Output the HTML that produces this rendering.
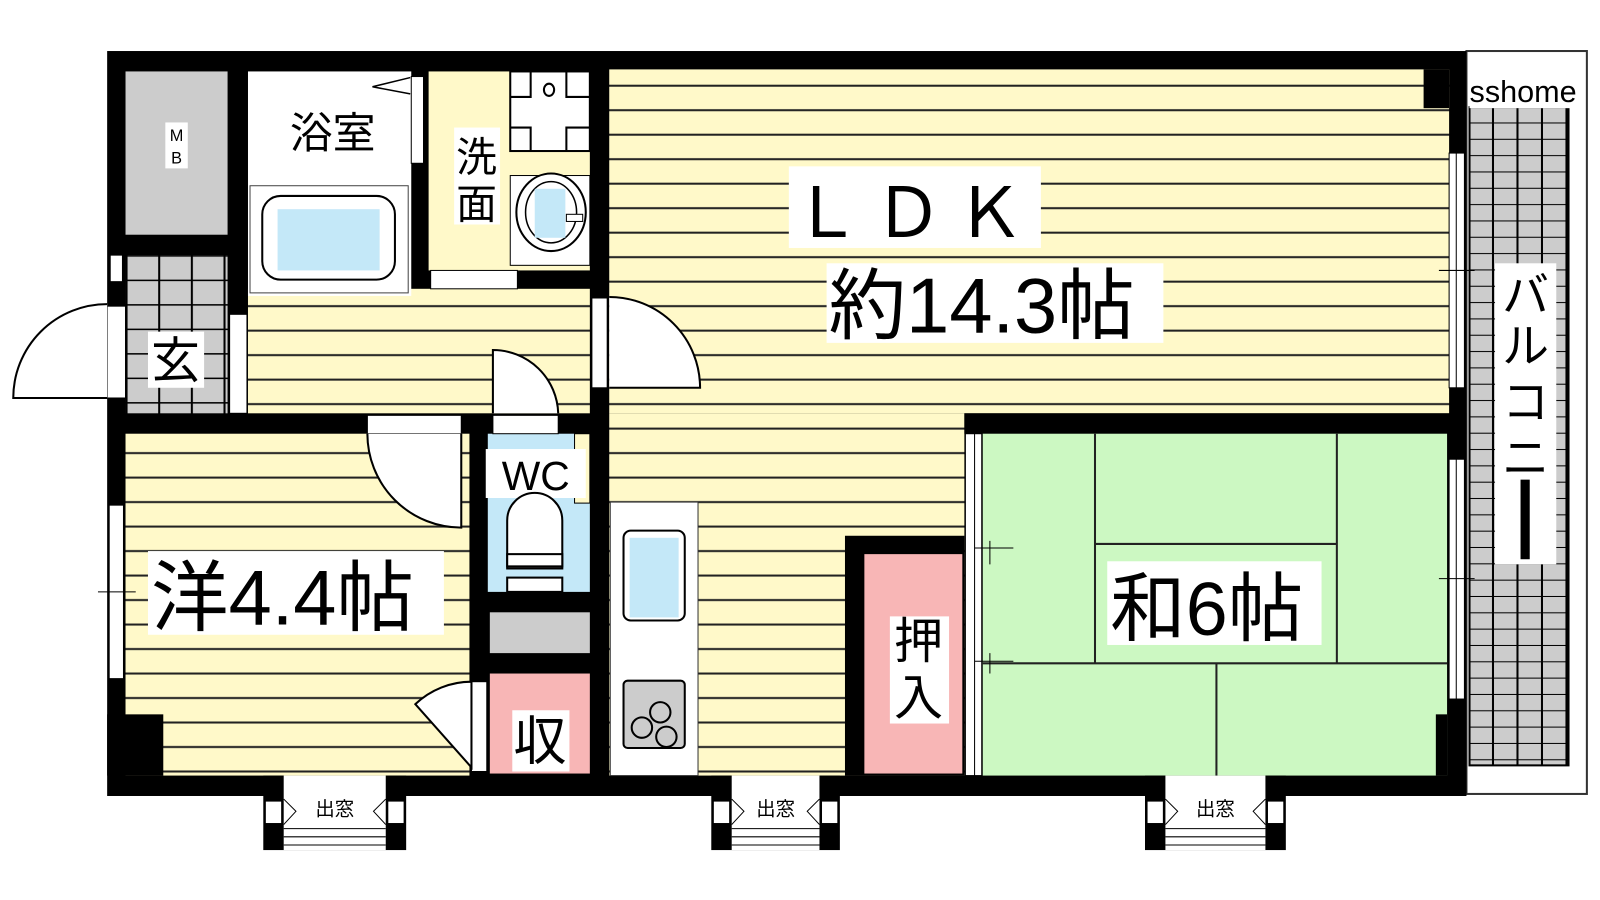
<!DOCTYPE html>
<html><head><meta charset="utf-8"><style>
html,body{margin:0;padding:0;background:#fff;overflow:hidden;}
svg{display:block;}
text{font-family:"Liberation Sans","Noto Sans CJK JP",sans-serif;}
</style></head><body>
<svg width="1600" height="900" viewBox="0 0 1600 900" xmlns="http://www.w3.org/2000/svg">
<defs>
<pattern id="st" x="0" y="0" width="10" height="24" patternUnits="userSpaceOnUse">
<rect width="10" height="24" fill="#fff9c9"/><rect y="11" width="10" height="2" fill="#222"/>
</pattern>
<pattern id="tile" x="123" y="250" width="32" height="24" patternUnits="userSpaceOnUse">
<rect width="32" height="24" fill="#cccccc"/><rect x="0" width="2" height="24" fill="#000"/><rect y="0" width="32" height="1.5" fill="#000"/>
</pattern>
<pattern id="bal" x="1440" y="105" width="24" height="16" patternUnits="userSpaceOnUse">
<rect width="24" height="16" fill="#cccccc"/><rect x="22" width="2" height="16" fill="#000"/><rect y="15" width="24" height="1.5" fill="#000"/>
</pattern>
</defs>
<g transform="scale(1.0205)">
<!-- balcony -->
<rect x="1437" y="50" width="118" height="728" fill="#fff" stroke="#333" stroke-width="2"/>
<rect x="1440" y="105" width="97" height="645" fill="url(#bal)" stroke="#000" stroke-width="2"/>
<rect x="1440" y="68" width="107" height="38" fill="#fff"/>
<text x="1440" y="100" font-size="30">sshome</text>
<rect x="1465" y="258" width="60" height="295" fill="#fff"/>
<text x="1495" y="305" font-size="46" text-anchor="middle">バ</text>
<text x="1495" y="355" font-size="46" text-anchor="middle">ル</text>
<text x="1495" y="410" font-size="46" text-anchor="middle">コ</text>
<text x="1495" y="465" font-size="46" text-anchor="middle">ニ</text>
<rect x="1490" y="470" width="9" height="78" fill="#000"/>

<!-- outer wall -->
<rect x="105" y="50" width="1332" height="730" fill="#000"/>

<!-- floors -->
<rect x="597" y="68" width="823" height="337" fill="url(#st)"/>
<rect x="597" y="405" width="348" height="355" fill="url(#st)"/>
<rect x="243" y="283" width="335" height="122" fill="url(#st)"/>
<rect x="123" y="425" width="337" height="335" fill="url(#st)"/>
<rect x="1395" y="68" width="25" height="38" fill="#000"/>

<!-- MB -->
<rect x="123" y="70" width="100" height="160" fill="#cccccc"/>
<rect x="162" y="120" width="22" height="45" fill="#fff"/>
<text x="173" y="138" font-size="16" text-anchor="middle">M</text>
<text x="173" y="160" font-size="16" text-anchor="middle">B</text>

<!-- genkan -->
<rect x="123" y="250" width="100" height="155" fill="url(#tile)"/>
<rect x="145" y="325" width="55" height="55" fill="#fff"/>
<text x="172" y="370" font-size="48" text-anchor="middle">玄</text>
<rect x="105" y="300" width="18" height="90" fill="#fff" stroke="#000" stroke-width="1"/>
<rect x="108" y="250" width="12" height="26" fill="#fff" stroke="#000"/>
<path d="M105 390 L13 390 A92 92 0 0 1 105 298" fill="#fff" stroke="#000" stroke-width="2"/>
<rect x="225" y="308" width="17" height="97" fill="#fff" stroke="#000"/>

<!-- bath -->
<rect x="243" y="70" width="160" height="220" fill="#fff"/>
<rect x="245" y="182" width="155" height="105" fill="#fff" stroke="#444" stroke-width="1"/>
<rect x="257" y="192" width="130" height="82" rx="18" fill="#fff" stroke="#000" stroke-width="2"/>
<rect x="272" y="205" width="100" height="60" fill="#c4e8f8"/>
<rect x="280" y="102" width="92" height="48" fill="#fff"/>
<text x="326" y="145" font-size="42" text-anchor="middle">浴室</text>
<rect x="403" y="75" width="12" height="85" fill="#fff" stroke="#000"/>
<path d="M402 76 L365 85 L402 92" fill="none" stroke="#000" stroke-width="1.5"/>

<!-- washroom -->
<rect x="420" y="70" width="158" height="195" fill="#fff9c9"/>
<rect x="500" y="70" width="78" height="78" fill="#fff" stroke="#000" stroke-width="2"/>
<path d="M520 70 V95 H500 M555 70 V95 H578 M520 148 V125 H500 M555 148 V125 H578" fill="none" stroke="#000" stroke-width="2"/>
<ellipse cx="538" cy="88" rx="5" ry="6" fill="#fff" stroke="#000" stroke-width="2"/>
<rect x="500" y="172" width="78" height="88" fill="#fff" stroke="#000"/>
<ellipse cx="540" cy="208" rx="34" ry="38" fill="#fff" stroke="#000" stroke-width="2"/>
<ellipse cx="540" cy="208" rx="25" ry="30" fill="#fff" stroke="#000" stroke-width="1.5"/>
<rect x="524" y="185" width="30" height="48" fill="#c4e8f8"/>
<rect x="555" y="210" width="16" height="7" fill="#fff" stroke="#000"/>
<rect x="445" y="125" width="45" height="95" fill="#fff"/>
<text x="467" y="168" font-size="40" text-anchor="middle">洗</text>
<text x="467" y="214" font-size="40" text-anchor="middle">面</text>
<rect x="422" y="265" width="85" height="18" fill="#fff" stroke="#000"/>
<rect x="580" y="292" width="15" height="88" fill="#fff" stroke="#000"/>
<path d="M597 380 L686 380 A89 89 0 0 0 597 291" fill="#fff" stroke="#000" stroke-width="2"/>

<!-- 洋 door -->
<rect x="360" y="407" width="92" height="18" fill="#fff" stroke="#000"/>
<path d="M452 425 L452 517 A92 92 0 0 1 360 425" fill="#fff" stroke="#000" stroke-width="2"/>
<rect x="105" y="700" width="55" height="60" fill="#000"/>
<rect x="107" y="495" width="14" height="170" fill="#fff" stroke="#000"/>
<line x1="96" y1="580" x2="133" y2="580" stroke="#000"/>
<rect x="145" y="540" width="290" height="82" fill="#fff"/>
<text x="148" y="612" font-size="76">洋4.4帖</text>

<!-- WC -->
<rect x="478" y="425" width="100" height="155" fill="#c4e8f8"/>
<rect x="563" y="425" width="15" height="68" fill="#fff9c9" stroke="#000"/>
<rect x="483" y="407" width="64" height="18" fill="#fff" stroke="#000"/>
<path d="M483 405 L483 343 A64 64 0 0 1 547 405" fill="#fff" stroke="#000" stroke-width="2"/>
<rect x="476" y="440" width="98" height="48" fill="#fff"/>
<text x="525" y="480" font-size="40" text-anchor="middle">WC</text>
<path d="M497 557 V510 A27 27 0 0 1 551 510 V557 Z" fill="#fff" stroke="#000" stroke-width="2"/>
<rect x="497" y="543" width="54" height="12" fill="#fff" stroke="#000" stroke-width="2"/>
<rect x="497" y="566" width="54" height="14" fill="#fff" stroke="#000" stroke-width="2"/>
<rect x="480" y="600" width="98" height="40" fill="#cccccc"/>
<rect x="480" y="660" width="98" height="98" fill="#f8b6b6"/>
<rect x="502" y="696" width="56" height="60" fill="#fff"/>
<text x="529" y="744" font-size="52" text-anchor="middle">収</text>
<rect x="462" y="668" width="15" height="88" fill="#fff" stroke="#000"/>
<path d="M462 668 A80 80 0 0 0 407 690 L462 752 Z" fill="#fff" stroke="#000" stroke-width="2"/>

<!-- kitchen -->
<rect x="598" y="492" width="86" height="268" fill="#fff" stroke="#333"/>
<rect x="611" y="520" width="60" height="88" rx="7" fill="#fff" stroke="#000" stroke-width="2"/>
<rect x="617" y="527" width="48" height="78" fill="#c4e8f8"/>
<rect x="611" y="667" width="60" height="66" rx="4" fill="#cccccc" stroke="#000" stroke-width="2"/>
<circle cx="647" cy="698" r="10" fill="none" stroke="#000" stroke-width="2"/>
<circle cx="629" cy="713" r="10" fill="none" stroke="#000" stroke-width="2"/>
<circle cx="653" cy="722" r="10" fill="none" stroke="#000" stroke-width="2"/>

<!-- oshiire -->
<rect x="828" y="525" width="117" height="235" fill="#000"/>
<rect x="847" y="543" width="96" height="215" fill="#f8b6b6"/>
<rect x="872" y="604" width="58" height="105" fill="#fff"/>
<text x="900" y="645" font-size="48" text-anchor="middle">押</text>
<text x="900" y="700" font-size="48" text-anchor="middle">入</text>

<!-- washitsu -->
<rect x="945" y="405" width="492" height="20" fill="#000"/>
<rect x="963" y="425" width="455" height="335" fill="#ccf8c2"/>
<rect x="1407" y="700" width="11" height="60" fill="#000"/>
<g stroke="#222" stroke-width="2" fill="none">
<path d="M1073 425 V650 M1310 425 V650 M1073 533 H1310 M963 650 H1418 M1192 650 V760"/>
</g>
<rect x="946" y="425" width="16" height="335" fill="#fff" stroke="#000"/>
<line x1="955" y1="425" x2="955" y2="760" stroke="#000"/>
<path d="M955 537 H993 M970 530 V553 M955 648 H993 M970 640 V660" stroke="#000"/>
<rect x="1085" y="550" width="210" height="82" fill="#fff"/>
<text x="1088" y="622" font-size="74">和6帖</text>

<!-- LDK text -->
<rect x="773" y="163" width="247" height="80" fill="#fff"/>
<text x="896" y="232" font-size="68" text-anchor="middle" letter-spacing="12">ＬＤＫ</text>
<rect x="810" y="258" width="330" height="78" fill="#fff"/>
<text x="812" y="326" font-size="76">約14.3帖</text>

<!-- right windows -->
<rect x="1420" y="150" width="15" height="230" fill="#fff" stroke="#000"/>
<line x1="1427" y1="150" x2="1427" y2="380" stroke="#000"/>
<rect x="1420" y="450" width="15" height="235" fill="#fff" stroke="#000"/>
<line x1="1427" y1="450" x2="1427" y2="685" stroke="#000"/>
<path d="M1410 265 H1445 M1410 567 H1445" stroke="#000"/>

<!-- demado -->
<g>
<rect x="258" y="760" width="140" height="73" fill="#000"/>
<rect x="278" y="760" width="100" height="73" fill="#fff"/>
<rect x="260" y="785" width="16" height="22" fill="#fff" stroke="#000"/>
<rect x="380" y="785" width="16" height="22" fill="#fff" stroke="#000"/>
<path d="M278 783 L290 795 L278 808 M378 783 L366 795 L378 808" fill="none" stroke="#000"/>
<path d="M278 812 H378 M278 820 H378 M278 828 H378" stroke="#000"/>
<text x="328" y="799" font-size="19" text-anchor="middle">出窓</text>
</g>
<g>
<rect x="697" y="760" width="126" height="73" fill="#000"/>
<rect x="717" y="760" width="86" height="73" fill="#fff"/>
<rect x="699" y="785" width="16" height="22" fill="#fff" stroke="#000"/>
<rect x="805" y="785" width="16" height="22" fill="#fff" stroke="#000"/>
<path d="M717 783 L729 795 L717 808 M803 783 L791 795 L803 808" fill="none" stroke="#000"/>
<path d="M717 812 H803 M717 820 H803 M717 828 H803" stroke="#000"/>
<text x="760" y="799" font-size="19" text-anchor="middle">出窓</text>
</g>
<g>
<rect x="1122" y="760" width="138" height="73" fill="#000"/>
<rect x="1142" y="760" width="98" height="73" fill="#fff"/>
<rect x="1124" y="785" width="16" height="22" fill="#fff" stroke="#000"/>
<rect x="1242" y="785" width="16" height="22" fill="#fff" stroke="#000"/>
<path d="M1142 783 L1154 795 L1142 808 M1240 783 L1228 795 L1240 808" fill="none" stroke="#000"/>
<path d="M1142 812 H1240 M1142 820 H1240 M1142 828 H1240" stroke="#000"/>
<text x="1191" y="799" font-size="19" text-anchor="middle">出窓</text>
</g>
</g>
</svg>
</body></html>
